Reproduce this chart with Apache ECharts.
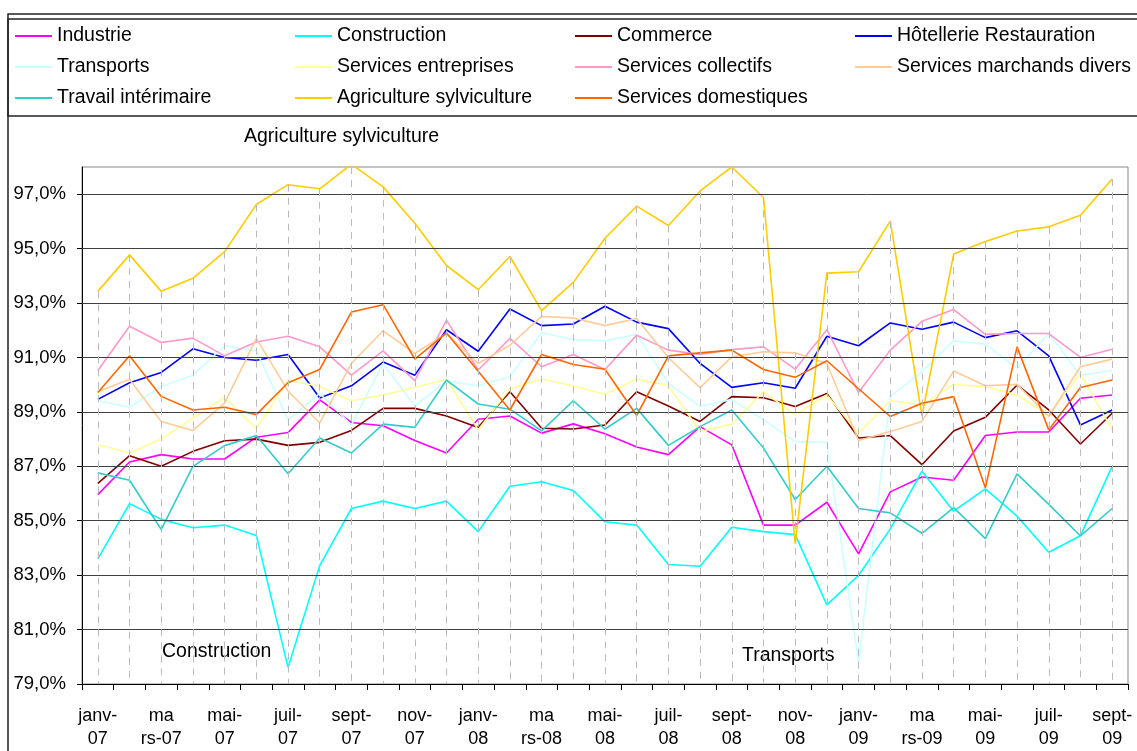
<!DOCTYPE html>
<html>
<head>
<meta charset="utf-8">
<script src="https://cdn.jsdelivr.net/npm/echarts@6/dist/echarts.min.js"></script>
<style>
html, body { margin: 0; background: #fff; }
#chart { width: 1137px; height: 751px; }
</style>
</head>
<body>
<div id="chart"></div>
<script>
const months = ['janv-07','févr-07','mars-07','avr-07','mai-07','juin-07','juil-07','août-07','sept-07','oct-07','nov-07','déc-07',
  'janv-08','févr-08','mars-08','avr-08','mai-08','juin-08','juil-08','août-08','sept-08','oct-08','nov-08','déc-08',
  'janv-09','févr-09','mars-09','avr-09','mai-09','juin-09','juil-09','août-09','sept-09'];

const industrie = [85.96, 87.16, 87.43, 87.27, 87.27, 88.07, 88.24, 89.44, 88.61, 88.49, 87.95, 87.49, 88.73, 88.85, 88.22, 88.56, 88.2, 87.71, 87.43, 88.46, 87.79, 84.84, 84.84, 85.68, 83.78, 86.06, 86.61, 86.49, 88.13, 88.26, 88.26, 89.5, 89.62];
const construction = [83.6, 85.63, 85.05, 84.74, 84.84, 84.46, 79.61, 83.35, 85.45, 85.72, 85.45, 85.72, 84.6, 86.27, 86.43, 86.11, 84.96, 84.84, 83.39, 83.33, 84.76, 84.6, 84.49, 81.91, 82.99, 84.7, 86.82, 85.35, 86.17, 85.17, 83.84, 84.45, 87.0];
const commerce = [86.37, 87.39, 87.0, 87.55, 87.94, 88.0, 87.77, 87.88, 88.32, 89.13, 89.13, 88.85, 88.43, 89.74, 88.4, 88.37, 88.52, 89.74, 89.22, 88.65, 89.56, 89.52, 89.2, 89.68, 88.04, 88.13, 87.06, 88.3, 88.8, 89.99, 89.07, 87.82, 88.95];
const hotellerie = [89.46, 90.07, 90.45, 91.32, 91.0, 90.9, 91.11, 89.51, 89.96, 90.83, 90.35, 92.02, 91.23, 92.78, 92.17, 92.23, 92.88, 92.3, 92.06, 90.78, 89.9, 90.07, 89.87, 91.78, 91.43, 92.27, 92.04, 92.3, 91.73, 91.98, 91.06, 88.52, 89.07];
const transports = [89.41, 89.17, 89.93, 90.35, 91.43, 91.24, 88.71, 89.68, 88.52, 90.78, 89.22, 90.13, 89.96, 90.29, 91.91, 91.66, 91.61, 91.85, 90.05, 89.2, 89.46, 88.71, 87.91, 87.88, 79.78, 89.56, 90.48, 91.61, 91.49, 90.6, 91.88, 90.35, 90.51];
const entreprises = [87.79, 87.49, 88.0, 88.77, 89.54, 88.38, 90.17, 89.93, 89.41, 89.62, 89.9, 90.2, 88.34, 89.84, 90.21, 89.95, 89.65, 90.21, 89.96, 88.28, 88.55, 89.74, 88.89, 89.62, 88.22, 89.41, 89.26, 90.01, 89.93, 89.62, 88.89, 90.41, 88.34];
const collectifs = [90.51, 92.15, 91.55, 91.71, 91.06, 91.57, 91.78, 91.39, 90.35, 91.24, 90.15, 92.37, 90.54, 91.7, 90.66, 91.11, 90.56, 91.82, 91.27, 91.11, 91.29, 91.39, 90.57, 92.02, 89.71, 91.27, 92.33, 92.76, 91.85, 91.88, 91.88, 91.0, 91.3];
const marchands = [89.74, 90.2, 88.65, 88.32, 89.32, 91.7, 89.77, 88.59, 90.78, 91.98, 91.15, 91.88, 90.78, 91.45, 92.51, 92.45, 92.17, 92.43, 90.99, 89.89, 91.02, 91.21, 91.17, 90.78, 87.95, 88.28, 88.65, 90.5, 89.96, 90.01, 88.83, 90.66, 90.94];
const interimaire = [86.76, 86.49, 84.68, 87.0, 87.76, 88.13, 86.73, 88.04, 87.49, 88.55, 88.43, 90.17, 89.29, 89.1, 88.3, 89.41, 88.37, 89.13, 87.77, 88.46, 89.07, 87.67, 85.78, 87.0, 85.45, 85.29, 84.54, 85.48, 84.34, 86.72, 85.6, 84.44, 85.45];
const agriculture = [93.43, 94.77, 93.43, 93.91, 94.89, 96.62, 97.35, 97.2, 98.1, 97.27, 95.93, 94.38, 93.49, 94.71, 92.72, 93.76, 95.38, 96.56, 95.85, 97.12, 98.0, 96.88, 84.16, 94.1, 94.15, 96.01, 88.85, 94.8, 95.26, 95.65, 95.8, 96.23, 97.56];
const domestiques = [89.71, 91.06, 89.57, 89.07, 89.17, 88.9, 90.07, 90.56, 92.67, 92.94, 90.94, 91.9, 90.49, 89.07, 91.11, 90.74, 90.57, 88.87, 91.06, 91.17, 91.27, 90.56, 90.27, 90.88, 89.85, 88.83, 89.32, 89.56, 86.21, 91.39, 88.34, 89.9, 90.17];

const yTicks = [79, 81, 83, 85, 87, 89, 91, 93, 95, 97];
const yMin = 79, yMax = 98;

const seriesList = [
  { name: 'Industrie', data: industrie, color: '#FF00FF' },
  { name: 'Construction', data: construction, color: '#00FFFF' },
  { name: 'Commerce', data: commerce, color: '#800000' },
  { name: 'Hôtellerie Restauration', data: hotellerie, color: '#0000FF' },
  { name: 'Transports', data: transports, color: '#CCFFFF' },
  { name: 'Services entreprises', data: entreprises, color: '#FFFF99' },
  { name: 'Services collectifs', data: collectifs, color: '#FF99CC' },
  { name: 'Services marchands divers', data: marchands, color: '#FFCC99' },
  { name: 'Travail intérimaire', data: interimaire, color: '#33CCCC' },
  { name: 'Agriculture sylviculture', data: agriculture, color: '#FFCC00' },
  { name: 'Services domestiques', data: domestiques, color: '#FF6600' }
];

const font = 'Liberation Sans, Arial, sans-serif';

function monthLabel(m) {
  if (m.indexOf('mars') === 0) return 'ma\n' + m.slice(2);
  const p = m.split('-');
  return p[0] + '-\n' + p[1];
}

// drop lines: from the highest value of each month down to the axis
const dropLines = months.map((m, i) => {
  const top = Math.min(yMax, Math.max(...seriesList.map(s => s.data[i])));
  return [{ coord: [i, top] }, { coord: [i, yMin] }];
});

const legendRow = (names, top) => ({
  data: names,
  top: top,
  left: 15,
  width: 1122,
  padding: 0,
  itemWidth: 37,
  itemHeight: 2,
  itemGap: 8,
  icon: 'rect',
  selectedMode: false,
  textStyle: { fontFamily: font, fontSize: 19.5, color: '#000', width: 230, lineHeight: 20 }
});

const chart = echarts.init(document.getElementById('chart'));
chart.setOption({
  animation: false,
  backgroundColor: '#fff',
  legend: [
    legendRow(seriesList.slice(0, 4).map(s => s.name), 26),
    legendRow(seriesList.slice(4, 8).map(s => s.name), 57),
    legendRow(seriesList.slice(8).map(s => s.name), 88)
  ],
  graphic: [
    { type: 'rect', shape: { x: 8, y: 14, width: 1140, height: 800 }, style: { fill: 'none', stroke: '#222', lineWidth: 1.5 }, silent: true },
    { type: 'rect', shape: { x: 8, y: 19, width: 1140, height: 97 }, style: { fill: 'none', stroke: '#222', lineWidth: 1.5 }, silent: true },
    { type: 'text', left: 244, top: 127, style: { text: 'Agriculture sylviculture', font: '19.5px ' + font, fill: '#000' }, silent: true },
    { type: 'text', left: 162, top: 642, style: { text: 'Construction', font: '19.5px ' + font, fill: '#000' }, silent: true },
    { type: 'text', left: 742, top: 646, style: { text: 'Transports', font: '19.5px ' + font, fill: '#000' }, silent: true }
  ],
  grid: { left: 82, top: 167, right: 9, bottom: 65, show: true, borderColor: '#888', borderWidth: 1 },
  xAxis: {
    type: 'category',
    data: months,
    boundaryGap: true,
    axisLine: { lineStyle: { color: '#000', width: 1 } },
    axisTick: { show: true, interval: 0, length: 6, lineStyle: { color: '#000' } },
    axisLabel: {
      interval: 1,
      formatter: monthLabel,
      fontFamily: font, fontSize: 18, color: '#000',
      lineHeight: 23, margin: 21
    },
    splitLine: { show: false }
  },
  yAxis: {
    type: 'value',
    min: yMin,
    max: yMax,
    interval: 1,
    axisLine: { show: true, lineStyle: { color: '#000', width: 1 } },
    axisTick: { show: true, customValues: yTicks, length: 5, lineStyle: { color: '#000' } },
    axisLabel: {
      customValues: yTicks,
      formatter: v => v.toFixed(1).replace('.', ',') + '%',
      fontFamily: font, fontSize: 18.5, color: '#000', margin: 16
    },
    splitLine: { show: false }
  },
  series: [
    {
      name: 'grille',
      type: 'line',
      data: [],
      silent: true,
      z: 1,
      markLine: {
        silent: true,
        symbol: 'none',
        label: { show: false },
        lineStyle: { color: '#404040', width: 1, type: 'solid' },
        data: yTicks.slice(1).map(v => ({ yAxis: v }))
      }
    },
    {
      name: 'dropLines',
      type: 'line',
      data: [],
      silent: true,
      z: 1,
      markLine: {
        silent: true,
        symbol: 'none',
        label: { show: false },
        lineStyle: { color: '#bbbbbb', width: 1, type: [7, 6] },
        data: dropLines
      }
    }
  ].concat(seriesList.map(s => ({
    name: s.name,
    type: 'line',
    data: s.data,
    color: s.color,
    showSymbol: false,
    symbol: 'none',
    z: 3,
    lineStyle: { width: 1.6, color: s.color },
    itemStyle: { color: s.color }
  })))
});
</script>
</body>
</html>
